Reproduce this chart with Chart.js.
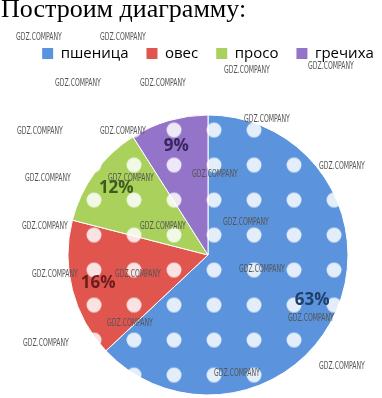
<!DOCTYPE html>
<html>
<head>
<meta charset="utf-8">
<script src="https://cdn.jsdelivr.net/npm/chart.js@4/dist/chart.umd.min.js"></script>
<style>
    html, body { margin: 0; padding: 0; background: #fff; }
    body { width: 382px; height: 398px; overflow: hidden; position: relative; }
    #chart-wrap { position: absolute; left: 0; top: 0; width: 416px; height: 398px; }
    #title {
        position: absolute; left: 1px; top: -4px; white-space: nowrap;
        font-family: 'Liberation Serif', 'Times New Roman', serif;
        font-size: 26px; line-height: 26px; color: #000;
    }
    .wm {
        position: absolute; white-space: nowrap;
        font-family: 'Liberation Sans Narrow', 'DejaVu Sans Condensed', sans-serif;
        font-size: 11px; line-height: 11px; color: #555;
        transform: scaleX(0.62); transform-origin: left top;
    }
</style>
</head>
<body>
<div id="chart-wrap"><canvas id="pieChart" width="416" height="398"></canvas></div>
<div id="title">Построим диаграмму:</div>
<div id="marks"></div>
<script>
const categories = ['пшеница', 'овес', 'просо', 'гречиха'];
const shares = [63, 16, 12, 9];
const sliceColors = ['#5b94dc', '#e1554f', '#a9d15c', '#9474c9'];
const labelColors = ['#213f6c', '#6b1c1c', '#3f5b1c', '#39265e'];

// watermark spots (top-left corners)
const markSpots = [
    [16, 31], [100, 31], [55, 77], [140, 77], [224, 64], [308, 60],
    [17, 125], [100, 125], [244, 113], [319, 160], [25, 172], [108, 172],
    [192, 168], [223, 216], [22, 220], [140, 220], [32, 268], [115, 268],
    [239, 263], [107, 317], [23, 337], [288, 312], [319, 360], [214, 367]
];

markSpots.forEach(([x, y]) => {
    const el = document.createElement('div');
    el.className = 'wm';
    el.textContent = 'GDZ.COMPANY';
    el.style.left = x + 'px';
    el.style.top = y + 'px';
    document.getElementById('marks').appendChild(el);
});

function dotPattern(color) {
    const tile = document.createElement('canvas');
    tile.width = 40;
    tile.height = 35;
    const c = tile.getContext('2d');
    c.fillStyle = color;
    c.fillRect(0, 0, 40, 35);
    c.fillStyle = 'rgba(255,255,255,0.84)';
    c.beginPath();
    c.arc(20, 17.5, 7.5, 0, Math.PI * 2);
    c.fill();
    const ctx = document.getElementById('pieChart').getContext('2d');
    const pat = ctx.createPattern(tile, 'repeat');
    pat.setTransform(new DOMMatrix([1, 0, 0, 1, 34, 7.5]));
    return pat;
}

const legendGap = {
    id: 'legendGap',
    beforeInit(chart) {
        const origFit = chart.legend.fit;
        chart.legend.fit = function () {
            origFit.call(this);
            this.height += 41;
        };
    }
};

const pctLabels = {
    id: 'pctLabels',
    afterDatasetsDraw(chart) {
        const ctx = chart.ctx;
        const meta = chart.getDatasetMeta(0);
        ctx.save();
        ctx.font = 'bold 17px "Open Sans", sans-serif';
        ctx.textAlign = 'center';
        ctx.textBaseline = 'middle';
        meta.data.forEach((arc, i) => {
            const { x, y, startAngle, endAngle, outerRadius } =
                arc.getProps(['x', 'y', 'startAngle', 'endAngle', 'outerRadius'], true);
            const mid = (startAngle + endAngle) / 2;
            const r = outerRadius * 0.81;
            ctx.fillStyle = labelColors[i];
            ctx.fillText(shares[i] + '%', x + Math.cos(mid) * r, y + Math.sin(mid) * r);
        });
        ctx.restore();
    }
};

new Chart(document.getElementById('pieChart'), {
    type: 'pie',
    data: {
        labels: categories,
        datasets: [{
            data: shares,
            backgroundColor: sliceColors.map(dotPattern),
            borderColor: '#ffffff',
            borderWidth: 1
        }]
    },
    options: {
        responsive: false,
        animation: false,
        radius: 140,
        layout: { padding: { top: 28, bottom: 0, left: 0, right: 0 } },
        plugins: {
            legend: {
                position: 'top',
                labels: {
                    boxWidth: 11,
                    boxHeight: 11,
                    padding: 18,
                    color: '#505050',
                    font: { family: '"Open Sans", sans-serif', size: 15 },
                    generateLabels(chart) {
                        return categories.map((name, i) => ({
                            text: name,
                            fillStyle: sliceColors[i],
                            strokeStyle: sliceColors[i],
                            lineWidth: 0,
                            hidden: false,
                            index: i
                        }));
                    }
                }
            },
            tooltip: { enabled: false }
        }
    },
    plugins: [legendGap, pctLabels]
});
</script>
</body>
</html>
